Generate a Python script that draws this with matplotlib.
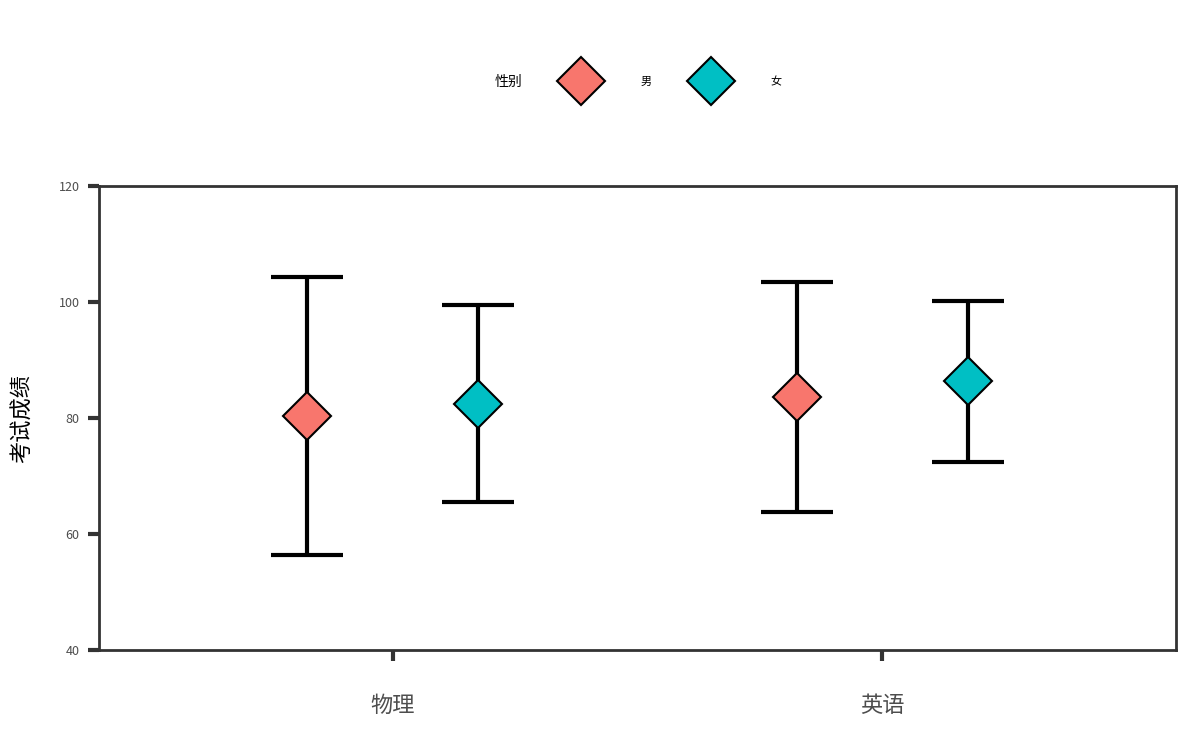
import numpy as np
import matplotlib
matplotlib.use('Agg')
import matplotlib.pyplot as plt
from matplotlib.lines import Line2D

plt.rcParams['font.family'] = ['Noto Sans CJK SC', 'DejaVu Sans']

# 数据
subjects = ['物理', '英语']
genders = ['男', '女']
colors = ['#F8766D', '#00BFC4']
mean_vals = {'男': [80.3, 83.6], '女': [82.4, 86.4]}
upper_vals = {'男': [104.3, 103.4], '女': [99.5, 100.2]}
lower_vals = {'男': [56.4, 63.8], '女': [65.5, 72.4]}

fig = plt.figure(figsize=(12, 7.5), dpi=100)
ax = fig.add_axes([0.0825, 0.1333, 0.8975, 0.6187])

x = np.arange(len(subjects))
offsets = [-0.175, 0.175]

for g, off, c in zip(genders, offsets, colors):
    m = np.array(mean_vals[g])
    lo = m - np.array(lower_vals[g])
    hi = np.array(upper_vals[g]) - m
    ax.errorbar(x + off, m, yerr=[lo, hi], fmt='none', ecolor='black',
                elinewidth=3, capsize=26, capthick=3, zorder=2)
    ax.plot(x + off, m, linestyle='none', marker='D', markersize=24,
            markerfacecolor=c, markeredgecolor='black', markeredgewidth=1.5, zorder=3)

ax.set_xlim(-0.6, 1.6)
ax.set_ylim(40, 120)
ax.set_xticks(x)
ax.set_xticklabels(subjects, fontsize=16, color='#4d4d4d')
ax.set_yticks([40, 60, 80, 100, 120])
ax.tick_params(axis='y', length=8, width=3, color='#333333', labelsize=9,
               labelcolor='#4d4d4d', pad=6)
ax.tick_params(axis='x', length=8, width=3, color='#333333', pad=24)
for sp in ax.spines.values():
    sp.set_linewidth(2)
    sp.set_color('#333333')
ax.set_ylabel('考试成绩', fontsize=16, labelpad=18)

# 图例
handles = [Line2D([], [], linestyle='none', marker='D', markersize=24,
                  markerfacecolor=c, markeredgecolor='black', markeredgewidth=1.5)
           for c in colors]
fig.legend(handles, genders, loc='center left', bbox_to_anchor=(0.4753, 0.891), ncol=2,
           frameon=False, fontsize=8, handletextpad=4.35, columnspacing=4.3,
           borderaxespad=0, borderpad=0)
fig.text(0.424, 0.891, '性别', fontsize=10, ha='center', va='center')

fig.savefig('out.png', dpi=100)
